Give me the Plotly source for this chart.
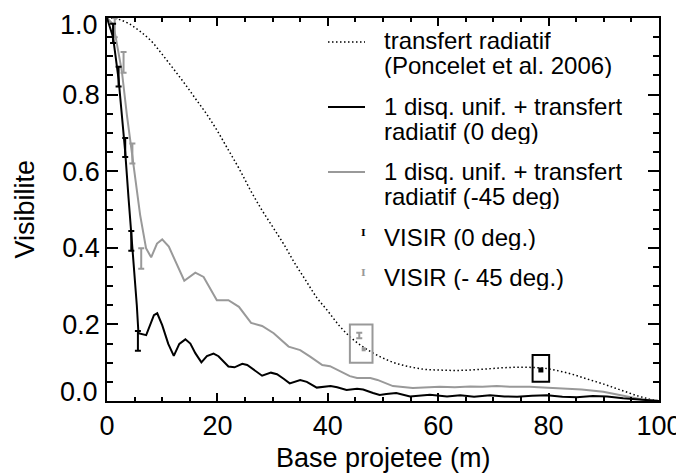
import plotly.graph_objects as go

# ---- data ----
rt_x = [0, 2, 4, 6, 8, 10, 12, 14, 16, 18, 20, 22, 24, 26, 28, 30, 32, 34, 36, 38, 40,
        42, 44, 46, 48, 50, 52, 54, 56, 58, 60, 62, 64, 66, 68, 70, 72, 74, 76, 78, 80,
        82, 84, 86, 88, 90, 92, 94, 96, 98, 100]
rt_y = [1.0, 0.997, 0.985, 0.965, 0.94, 0.905, 0.868, 0.83, 0.79, 0.75, 0.705,
        0.655, 0.605, 0.55, 0.50, 0.455, 0.41, 0.36, 0.315, 0.27, 0.235,
        0.198, 0.168, 0.145, 0.127, 0.112, 0.10, 0.092, 0.086, 0.082, 0.081,
        0.080, 0.080, 0.081, 0.083, 0.085, 0.087, 0.088, 0.088, 0.087, 0.084,
        0.078, 0.071, 0.062, 0.053, 0.044, 0.034, 0.024, 0.014, 0.006, 0.0]

d0_x = [0, 0.6, 1.1, 2.1, 3.3, 3.9, 4.4, 5.0, 5.4, 5.7, 6.2, 7.1, 8.5, 9.1, 10, 11.1,
        12.1, 13.1, 14.2, 15.1, 16, 17.1, 18.1, 19.3, 20.2, 21, 22, 23.1, 24.5, 25.4,
        26.5, 28.1, 29.7, 30.8, 32, 33.1, 35, 36.2, 38, 40.5, 41.7, 43.4, 45.3, 46.4,
        48.2, 49.4, 50.6, 52.4, 54.9, 57.3, 58.5, 61.6, 64, 66.5, 69.4, 72, 74.3, 77,
        79.7, 82.5, 85.1, 88, 90.6, 93.5, 96, 98.7, 100]
d0_y = [1.0, 0.975, 0.95, 0.84, 0.65, 0.53, 0.44, 0.33, 0.25, 0.177, 0.175, 0.172,
        0.224, 0.229, 0.198, 0.149, 0.118, 0.149, 0.161, 0.150, 0.125, 0.101, 0.117,
        0.124, 0.117, 0.105, 0.090, 0.088, 0.097, 0.094, 0.083, 0.066, 0.074, 0.070,
        0.058, 0.046, 0.055, 0.050, 0.035, 0.039, 0.036, 0.029, 0.032, 0.030, 0.021,
        0.016, 0.018, 0.021, 0.012, 0.015, 0.016, 0.012, 0.015, 0.011, 0.015, 0.012,
        0.011, 0.014, 0.015, 0.011, 0.010, 0.013, 0.012, 0.007, 0.005, 0.001, 0.0]

d45_x = [0, 1, 1.5, 2.7, 3.6, 4.8, 6.0, 7.07, 8.0, 9.06, 10, 11.2, 12.5, 14, 16, 17.5,
         19.9, 22, 23.9, 26.1, 28.1, 30.2, 32.9, 35, 36.8, 39, 40.4, 42, 44, 45.3,
         47.7, 49, 51.8, 55.4, 58, 60.3, 63, 65.8, 68, 70.6, 73, 76.6, 79, 82.6, 86,
         89.9, 92, 94.7, 97, 100]
d45_y = [1.0, 0.985, 0.956, 0.86, 0.747, 0.616, 0.486, 0.399, 0.375, 0.411, 0.422,
         0.403, 0.36, 0.314, 0.335, 0.324, 0.263, 0.263, 0.246, 0.204, 0.196, 0.177,
         0.142, 0.133, 0.116, 0.094, 0.091, 0.080, 0.065, 0.060, 0.060, 0.055, 0.039,
         0.034, 0.035, 0.037, 0.036, 0.038, 0.037, 0.039, 0.037, 0.037, 0.035, 0.033,
         0.030, 0.024, 0.018, 0.011, 0.004, 0.0]

visir0_x = [1.1, 2.1, 3.3, 4.4, 5.6]
visir0_y = [0.96, 0.847, 0.662, 0.418, 0.157]
visir0_err = [0.025, 0.026, 0.025, 0.026, 0.026]

visir45_x = [1.4, 3.0, 4.6, 6.2, 45.7]
visir45_y = [0.975, 0.884, 0.646, 0.372, 0.171]
visir45_err = [0.025, 0.027, 0.026, 0.027, 0.007]

pt45_x = [46.5]
pt45_y = [0.135]
pt0_x = [78.6]
pt0_y = [0.081]

# highlight boxes [x0, x1, y0, y1]
box45 = [44.0, 48.1, 0.100, 0.200]
box0 = [77.1, 80.1, 0.050, 0.120]

x_ticks = [0, 20, 40, 60, 80, 100]
y_ticks = [0, 0.2, 0.4, 0.6, 0.8, 1.0]
y_ticktext = ["", "0.2", "0.4", "0.6", "0.8", ""]
y_end_labels = ["0.0", "1.0"]
x_title = "Base projetee (m)"
y_title = "Visibilite"

legend_labels = [
    ["transfert radiatif", "(Poncelet et al. 2006)"],
    ["1 disq. unif. + transfert", "radiatif (0 deg)"],
    ["1 disq. unif. + transfert", "radiatif (-45 deg)"],
    ["VISIR (0 deg.)"],
    ["VISIR (- 45 deg.)"],
]

GRAY = "#999999"
FONT = "Liberation Sans, Arial, sans-serif"
DOT = "1.5px,2.5px"
TICK_SIZE = 27
TITLE_SIZE = 27

# page geometry (the page body adds an 8px offset)
PAGE_W, PAGE_H = 684, 473
OFF = 8
W, H = PAGE_W - OFF, PAGE_H - OFF
# plot area in page pixels
L, R, T, B = 107, 659, 18, 401

fig = go.Figure()
fig.add_trace(go.Scatter(x=rt_x, y=rt_y, mode="lines",
                         line=dict(color="black", width=1.5, dash=DOT),
                         line_shape="spline", showlegend=False))
fig.add_trace(go.Scatter(x=d45_x, y=d45_y, mode="lines",
                         line=dict(color=GRAY, width=2), showlegend=False))
fig.add_trace(go.Scatter(x=d0_x, y=d0_y, mode="lines",
                         line=dict(color="black", width=2), showlegend=False))
fig.add_trace(go.Scatter(x=visir45_x, y=visir45_y, mode="markers",
                         marker=dict(size=1, color=GRAY, opacity=0),
                         error_y=dict(type="data", array=visir45_err, color=GRAY,
                                      thickness=2, width=3),
                         showlegend=False))
fig.add_trace(go.Scatter(x=visir0_x, y=visir0_y, mode="markers",
                         marker=dict(size=1, color="black", opacity=0),
                         error_y=dict(type="data", array=visir0_err, color="black",
                                      thickness=2, width=3),
                         showlegend=False))
fig.add_trace(go.Scatter(x=pt45_x, y=pt45_y, mode="markers",
                         marker=dict(symbol="square", size=4, color=GRAY),
                         showlegend=False))
fig.add_trace(go.Scatter(x=pt0_x, y=pt0_y, mode="markers",
                         marker=dict(symbol="square", size=5, color="black"),
                         showlegend=False))

# highlight boxes
fig.add_shape(type="rect", x0=box45[0], x1=box45[1], y0=box45[2], y1=box45[3],
              xref="x", yref="y", line=dict(color=GRAY, width=2))
fig.add_shape(type="rect", x0=box0[0], x1=box0[1], y0=box0[2], y1=box0[3],
              xref="x", yref="y", line=dict(color="black", width=2))


def px2paper(px, py):
    return (px - L) / float(R - L), (B - py) / float(B - T)


# manual legend
text_x = 383
line_h = 25
entries_y = [41, 106, 171, 237, 277]
for lab, yc in zip(legend_labels, entries_y):
    for i, t in enumerate(lab):
        xp, yp = px2paper(text_x, yc + i * line_h)
        fig.add_annotation(x=xp, y=yp, xref="paper", yref="paper", text=t,
                           showarrow=False, xanchor="left", yanchor="middle",
                           height=25, borderpad=0,
                           font=dict(family=FONT, size=24, color="black"))

samples = [(42, "black", 1.5, DOT), (107, "black", 2, "solid"), (172, GRAY, 2, "solid")]
for yc, col, w, dash in samples:
    x0, y0 = px2paper(328, yc)
    x1, _ = px2paper(365, yc)
    fig.add_shape(type="line", x0=x0, x1=x1, y0=y0, y1=y0, xref="paper", yref="paper",
                  line=dict(color=col, width=w, dash=dash))
for yc, col in [(232, "black"), (272, GRAY)]:
    xp, yp = px2paper(363, yc)
    fig.add_annotation(x=xp, y=yp, xref="paper", yref="paper", text="<b>I</b>",
                       showarrow=False, xanchor="center", yanchor="middle",
                       font=dict(family="DejaVu Serif, serif", size=10, color=col))

# axis titles
xp, yp = px2paper((L + R) / 2, 458)
fig.add_annotation(x=xp, y=yp, xref="paper", yref="paper", text=x_title, showarrow=False,
                   xanchor="center", yanchor="middle",
                   font=dict(family=FONT, size=TITLE_SIZE, color="black"))
xp, yp = px2paper(24, (T + B) / 2)
fig.add_annotation(x=xp, y=yp, xref="paper", yref="paper", text=y_title, showarrow=False,
                   textangle=-90, xanchor="center", yanchor="middle",
                   font=dict(family=FONT, size=TITLE_SIZE, color="black"))
# end labels of the y axis (kept inside the page as in the reference)
xp, yp = px2paper(99, 392)
fig.add_annotation(x=xp, y=yp, xref="paper", yref="paper", text=y_end_labels[0],
                   showarrow=False, xanchor="right", yanchor="middle", borderpad=0,
                   font=dict(family=FONT, size=TICK_SIZE, color="black"))
xp, yp = px2paper(99, OFF + 1)
fig.add_annotation(x=xp, y=yp, xref="paper", yref="paper", text=y_end_labels[1],
                   showarrow=False, xanchor="right", yanchor="top", borderpad=0,
                   font=dict(family=FONT, size=TICK_SIZE, color="black"))

fig.update_layout(
    width=W, height=H,
    margin=dict(l=L - OFF, r=PAGE_W - R, t=T - OFF, b=PAGE_H - B, autoexpand=False),
    plot_bgcolor="white", paper_bgcolor="white",
    font=dict(family=FONT, color="black"),
    showlegend=False,
)
fig.update_xaxes(range=[0, 100], tickvals=x_ticks, automargin=False,
                 ticklabeloverflow="allow",
                 ticks="inside", ticklen=8, tickwidth=1.5, tickcolor="black",
                 showline=True, linecolor="black", linewidth=1.5, mirror="ticks",
                 showgrid=False, zeroline=False,
                 tickfont=dict(size=TICK_SIZE, family=FONT),
                 minor=dict(dtick=5, ticks="inside", ticklen=4, tickwidth=1.5, tickcolor="black"))
fig.update_yaxes(range=[0, 1], tickvals=y_ticks, ticktext=y_ticktext, automargin=False,
                 ticklabeloverflow="allow",
                 ticks="inside", ticklen=11, tickwidth=1.5, tickcolor="black",
                 showline=True, linecolor="black", linewidth=1.5, mirror="ticks",
                 showgrid=False, zeroline=False,
                 tickfont=dict(size=TICK_SIZE, family=FONT),
                 minor=dict(dtick=0.05, ticks="inside", ticklen=6, tickwidth=1.5, tickcolor="black"))

fig.write_html("out.html")
